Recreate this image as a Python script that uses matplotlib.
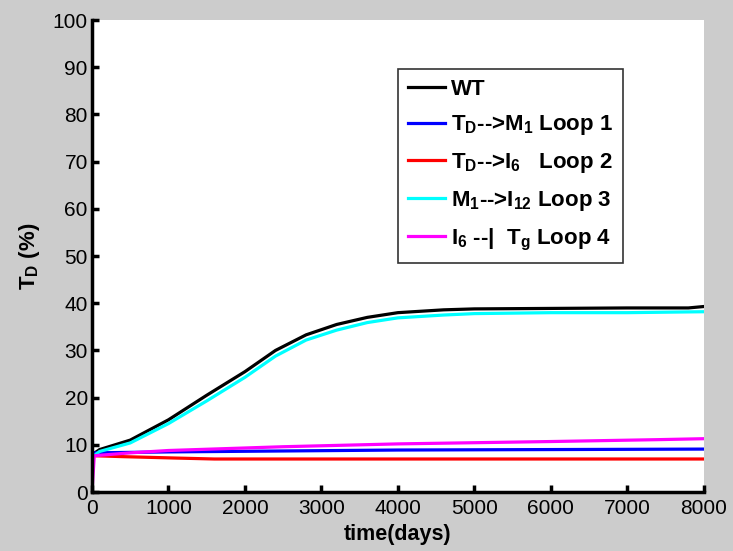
import numpy as np
import matplotlib
matplotlib.use('Agg')
import matplotlib.pyplot as plt

plt.rcParams['font.family'] = 'Liberation Sans'
plt.rcParams['mathtext.fontset'] = 'custom'
plt.rcParams['mathtext.rm'] = 'Liberation Sans:bold'
plt.rcParams['mathtext.it'] = 'Liberation Sans:bold'
plt.rcParams['mathtext.bf'] = 'Liberation Sans:bold'

# time (days) and T_D (%) for each run
t_wt = [0, 10, 100, 500, 1000, 1500, 2000, 2400, 2800, 3200, 3600, 4000, 4600, 5000, 6000, 7000, 7800, 8000]
wt = [0, 8.0, 9.0, 11.0, 15.3, 20.5, 25.5, 30.0, 33.3, 35.5, 37.0, 38.0, 38.6, 38.8, 38.9, 39.0, 39.0, 39.3]

t_l3 = [0, 10, 100, 500, 1000, 1500, 2000, 2400, 2800, 3200, 3600, 4000, 4600, 5000, 6000, 7000, 8000]
loop3 = [0, 7.5, 8.6, 10.4, 14.5, 19.3, 24.3, 28.8, 32.2, 34.3, 35.9, 36.9, 37.5, 37.8, 38.0, 38.0, 38.2]

t_l1 = [0, 10, 500, 1000, 2500, 4000, 6000, 8000]
loop1 = [0, 8.3, 8.4, 8.5, 8.7, 8.9, 9.0, 9.1]

t_l2 = [0, 10, 400, 1100, 1600, 3000, 5000, 8000]
loop2 = [0, 7.7, 7.5, 7.2, 7.0, 7.0, 7.0, 7.0]

t_l4 = [0, 30, 500, 1000, 2500, 4000, 6000, 7400, 8000]
loop4 = [0, 7.7, 8.3, 8.8, 9.6, 10.2, 10.7, 11.1, 11.3]

labels = ['WT',
          r'T$_D$-->M$_1$ Loop 1',
          r'T$_D$-->I$_6$   Loop 2',
          r'M$_1$-->I$_{12}$ Loop 3',
          r'I$_6$ --|  T$_g$ Loop 4']

fig = plt.figure(figsize=(7.33, 5.51), dpi=100, facecolor='#cccccc')
ax = fig.add_axes([0.1255, 0.107, 0.8345, 0.8567])
ax.set_facecolor('white')

lw = 2.3
ax.plot(t_wt, wt, color='black', lw=lw, label=labels[0])
ax.plot(t_l1, loop1, color='#0000ff', lw=lw, label=labels[1])
ax.plot(t_l2, loop2, color='#ff0000', lw=lw, label=labels[2])
ax.plot(t_l3, loop3, color='#00ffff', lw=lw, label=labels[3])
ax.plot(t_l4, loop4, color='#ff00ff', lw=lw, label=labels[4])

ax.set_xlim(0, 8000)
ax.set_ylim(0, 100)
ax.set_xticks(np.arange(0, 8001, 1000))
ax.set_yticks(np.arange(0, 101, 10))

for s in ['top', 'right']:
    ax.spines[s].set_visible(False)
for s in ['left', 'bottom']:
    ax.spines[s].set_linewidth(2.5)
ax.tick_params(direction='in', length=5, width=2.5, labelsize=15, colors='black')
ax.tick_params(axis='x', pad=5)
ax.tick_params(axis='y', pad=3)

ax.set_xlabel('time(days)', fontsize=15.5, fontweight='bold', labelpad=4)
ax.set_ylabel(r'T$_D$ (%)', fontsize=16, fontweight='bold', labelpad=8)

leg = ax.legend(loc='upper left', bbox_to_anchor=(0.5, 0.897), prop={'size': 16, 'weight': 'bold'},
                fancybox=False, framealpha=1, edgecolor='#333333', handlelength=1.65,
                handletextpad=0.3, labelspacing=0.62, borderpad=0.45, borderaxespad=0)
leg.get_frame().set_linewidth(1.2)

fig.savefig('out.png', dpi=100, facecolor=fig.get_facecolor())
